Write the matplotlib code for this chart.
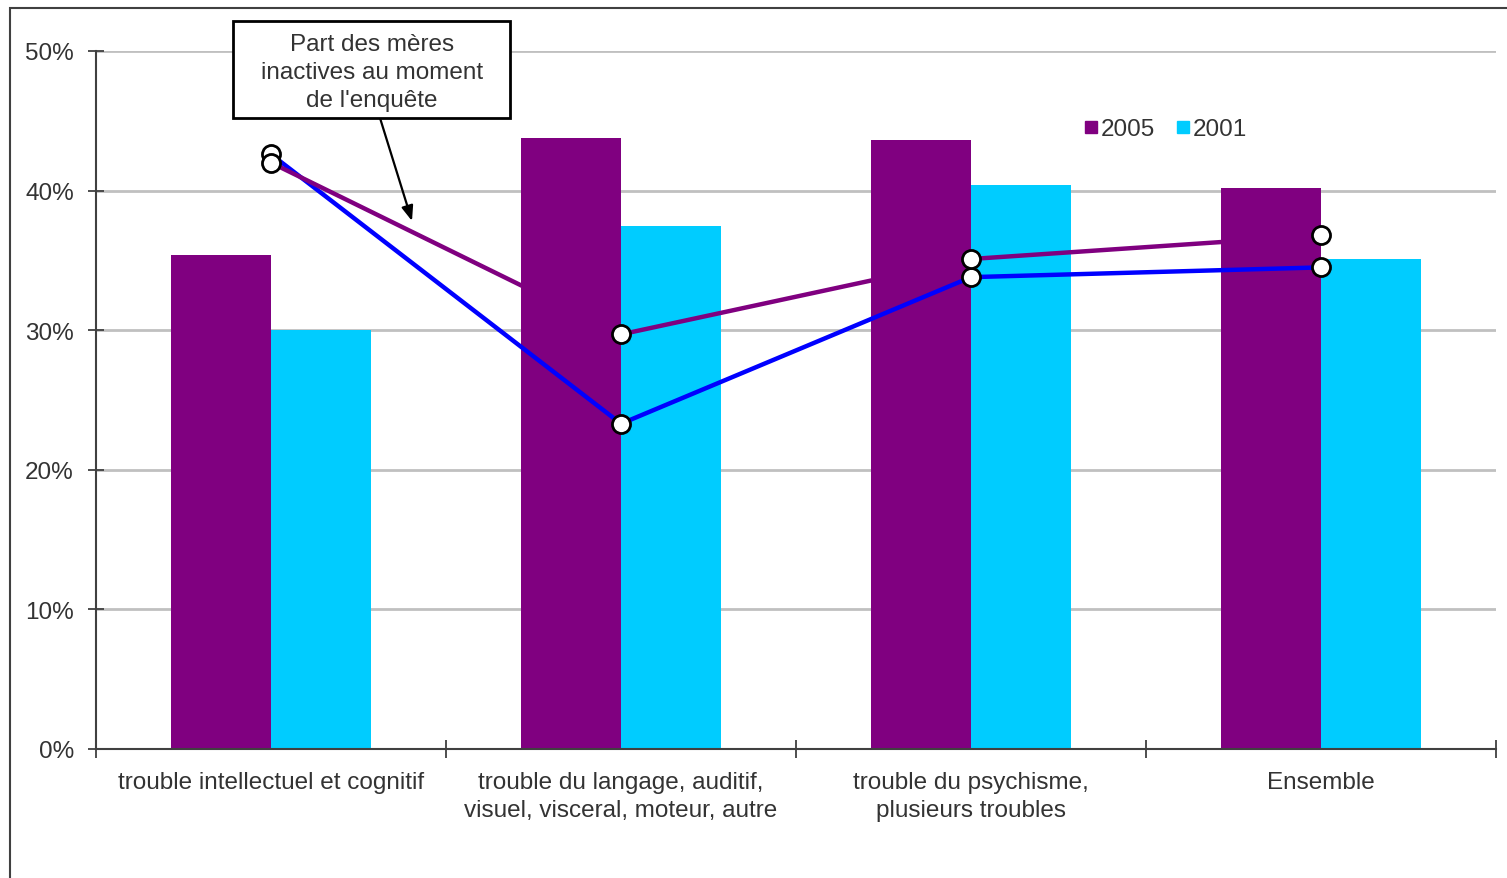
import matplotlib
matplotlib.use("Agg")
import matplotlib.pyplot as plt
import numpy as np
from matplotlib.patches import Rectangle
from matplotlib.lines import Line2D

plt.rcParams['font.family'] = ['Liberation Sans', 'DejaVu Sans']

# données
categories = ["trouble intellectuel et cognitif",
              "trouble du langage, auditif,\nvisuel, visceral, moteur, autre",
              "trouble du psychisme,\nplusieurs troubles",
              "Ensemble"]
barres_2005 = [0.354, 0.438, 0.436, 0.402]
barres_2001 = [0.300, 0.375, 0.404, 0.351]
inactives_2005 = [0.420, 0.297, 0.351, 0.368]
inactives_2001 = [0.426, 0.233, 0.338, 0.345]
yticks = [0, 0.1, 0.2, 0.3, 0.4, 0.5]

violet = "#800080"
cyan = "#00CCFF"
bleu = "#0000FF"
gris_texte = "#333333"
fs = 17.5

W, H = 1507, 879
fig = plt.figure(figsize=(W / 100, H / 100), dpi=100)
ax = fig.add_axes([96 / W, 129 / H, 1400 / W, 698 / H])

x = np.arange(len(categories))
w = 100 / 350

ax.bar(x - w / 2, barres_2005, width=w, color=violet, zorder=2)
ax.bar(x + w / 2, barres_2001, width=w, color=cyan, zorder=2)

ax.plot(x, inactives_2001, color=bleu, lw=3.2, marker="o", ms=13,
        mfc="white", mec="black", mew=2, zorder=4)
ax.plot(x, inactives_2005, color=violet, lw=3.2, marker="o", ms=13,
        mfc="white", mec="black", mew=2, zorder=5)

ax.set_xlim(-0.5, 3.5)
ax.set_ylim(0, 0.5)
ax.set_yticks(yticks)
ax.set_yticklabels([f"{int(round(v * 100))}%" for v in yticks])
ax.yaxis.grid(True, color="#C0C0C0", lw=2)
ax.set_axisbelow(True)

# graduations entre les catégories
ax.set_xticks(np.arange(-0.5, 4, 1))
ax.set_xticklabels([])
ax.set_xticks(x, minor=True)
ax.set_xticklabels(categories, minor=True, fontsize=fs, color=gris_texte,
                   linespacing=1.38, va="top")
ax.tick_params(axis="x", which="minor", length=0, pad=15.5)
ax.tick_params(axis="x", which="major", direction="inout", length=13,
               width=1.3, color="#404040")
ax.tick_params(axis="y", direction="inout", length=12, width=1.3,
               color="#404040", labelsize=fs, labelcolor=gris_texte, pad=10)

for s in ["top", "right"]:
    ax.spines[s].set_visible(False)
for s in ["left", "bottom"]:
    ax.spines[s].set_color("#404040")
    ax.spines[s].set_linewidth(1.5)

# légende
poignees = [Line2D([], [], ls="", marker="s", ms=8.5, color=violet),
            Line2D([], [], ls="", marker="s", ms=8.5, color=cyan)]
ax.legend(poignees, ["2005", "2001"], loc="center", bbox_to_anchor=(1166 / W, 1 - 130 / H),
          bbox_transform=fig.transFigure, ncol=2, frameon=False, fontsize=fs,
          handlelength=0.5, handletextpad=0.15, columnspacing=0.9,
          labelcolor=gris_texte)

# encadré et flèche
ax.annotate("", xy=(412, H - 222), xycoords="figure pixels",
            xytext=(380, H - 119), textcoords="figure pixels",
            arrowprops=dict(arrowstyle="-|>,head_length=0.9,head_width=0.35",
                            color="black", lw=1.6, shrinkA=0, shrinkB=0), zorder=6)
fig.patches.append(Rectangle((233 / W, 1 - 119 / H), 277 / W, 97 / H,
                             transform=fig.transFigure, fc="white",
                             ec="black", lw=2, zorder=7))
fig.text(372 / W, 1 - 73 / H, "Part des mères\ninactives au moment\nde l'enquête",
         ha="center", va="center", fontsize=fs, color=gris_texte,
         linespacing=1.38, zorder=8)

# cadre
fig.patches.append(Rectangle((10 / W, -0.1), 1.1, 1 - 9 / H + 0.1,
                             transform=fig.transFigure, fill=False,
                             ec="#404040", lw=1.5))

fig.savefig("out.png", dpi=100)
